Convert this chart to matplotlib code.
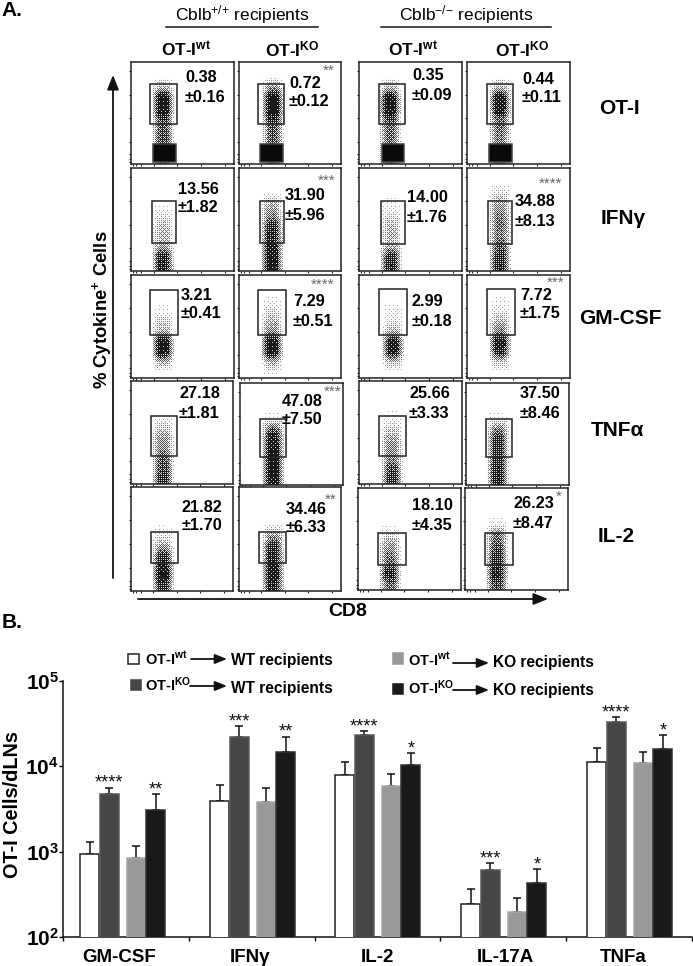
import numpy as np
import matplotlib
matplotlib.use('Agg')
import matplotlib.pyplot as plt
from matplotlib.patches import Rectangle

plt.rcParams['font.family'] = ['Liberation Sans', 'DejaVu Sans']
plt.rcParams['mathtext.fontset'] = 'custom'
plt.rcParams['mathtext.rm'] = 'Liberation Sans'
plt.rcParams['mathtext.bf'] = 'Liberation Sans:bold'
plt.rcParams['mathtext.default'] = 'regular'

W, H = 693, 966

# ---------- panel A data ----------
rows = ['OT-I', 'IFNγ', 'GM-CSF', 'TNFα', 'IL-2']
means = [['0.38', '0.72', '0.35', '0.44'],
         ['13.56', '31.90', '14.00', '34.88'],
         ['3.21', '7.29', '2.99', '7.72'],
         ['27.18', '47.08', '25.66', '37.50'],
         ['21.82', '34.46', '18.10', '26.23']]
sems = [['0.16', '0.12', '0.09', '0.11'],
        ['1.82', '5.96', '1.76', '8.13'],
        ['0.41', '0.51', '0.18', '1.75'],
        ['1.81', '7.50', '3.33', '8.46'],
        ['1.70', '6.33', '4.35', '8.47']]

# upper gate of every plot, in % of the plot: x0, x1, y0, y1
gates = [[(18.5, 45, 39, 78), (18.6, 44, 39, 78), (19.4, 45, 39, 78), (19.4, 44.6, 39, 78)],
         [(20.4, 43.7, 27, 68), (20.6, 44, 27, 68), (21.3, 44.6, 26, 68), (20.4, 43.7, 26, 68)],
         [(18.4, 45.6, 42, 85), (18.6, 46, 42, 85), (19.4, 46.6, 42, 86), (19.4, 46.6, 42, 86)],
         [(19.4, 44.7, 27, 66), (19.4, 44.9, 27, 65), (19.4, 45.6, 27, 66), (19.4, 44.7, 27, 65)],
         [(19.4, 45.6, 27, 57), (19.6, 45.6, 27, 57), (19.4, 46.6, 25, 56), (19.4, 46.6, 25, 56)]]
# lower gate, only on the OT-I row
lower_gates = [(21, 44, 2, 20), (20.6, 43, 2, 20), (22, 44, 2, 20), (21.5, 44, 2, 20)]

# cloud centre on the CD8 axis, in % of the plot
cloud_x = [[31, 33, 30, 32],
           [31, 32, 31, 32],
           [31, 32, 33, 32],
           [31, 32, 32, 31],
           [31, 33, 31, 31]]
# how dark the cloud is in ten slices, from bottom to top of the plot
cloud_y = [[[.5, .6, .65, .6, .7, .95, .95, .3, 0, 0],
            [.5, .6, .6, .6, .8, 1, 1, .4, 0, 0],
            [.5, .5, .55, .55, .7, .95, .9, .3, 0, 0],
            [.5, .5, .5, .55, .6, .9, .9, .3, 0, 0]],
           [[.8, .75, .3, .3, .25, .1, 0, 0, 0, 0],
            [.95, .9, .85, .8, .7, .45, .3, 0, 0, 0],
            [.75, .7, .25, .3, .25, .12, .03, 0, 0, 0],
            [.75, .7, .6, .5, .55, .5, .35, .15, 0, 0]],
           [[0, .3, .95, .95, .3, .2, .03, 0, 0, 0],
            [.03, .3, .95, .95, .45, .3, .15, .03, 0, 0],
            [0, .25, .85, .85, .3, .1, .05, 0, 0, 0],
            [0, .2, .8, .9, .5, .3, .1, .03, 0, 0]],
           [[.7, .65, .6, .45, .4, .2, 0, 0, 0, 0],
            [.9, .95, .95, .9, .85, .6, .05, 0, 0, 0],
            [.7, .65, .45, .45, .35, .15, .03, 0, 0, 0],
            [.75, .75, .7, .7, .7, .5, .05, 0, 0, 0]],
           [[.7, 1, .8, .7, .3, .05, 0, 0, 0, 0],
            [.8, .9, .85, .8, .7, .3, 0, 0, 0, 0],
            [.55, .8, .6, .5, .35, .1, 0, 0, 0, 0],
            [.65, .85, .75, .7, .6, .5, .05, 0, 0, 0]]]
cloud_across = [0, .5, .95, 1, .95, .5, 0]
# screen used to turn the darkness into dots
dot_screen = np.array([[0, 8, 2, 10], [12, 4, 14, 6], [3, 11, 1, 9], [15, 7, 13, 5]]) / 16 + 1 / 32

flow_ticks = [2, 5, 10, 22, 45, 68, 91]

# significance marks on the plots: row, column, stars
plot_stars = [(0, 1, '**'), (1, 1, '***'), (1, 3, '****'), (2, 1, '****'),
              (2, 3, '***'), (3, 1, '***'), (4, 1, '**'), (4, 3, '*')]
star_xy = [(329, 69), (327, 179), (551, 182), (323, 283),
           (556, 281), (333, 390), (331, 498), (559, 495)]

# ---------- panel A layout, in pixels ----------
col_edges = [[(131, 234), (239, 341), (359, 462), (467, 570)],
             [(131, 234), (239, 341), (359, 462), (467, 570)],
             [(131, 234), (239, 341), (359, 462), (467, 570)],
             [(131, 233), (240, 343), (359, 462), (466, 569)],
             [(131, 233), (239, 341), (358, 461), (465, 568)]]
row_edges = [[(62, 164)] * 4,
             [(168, 271)] * 4,
             [(275, 378)] * 4,
             [(381, 484), (383, 485), (381, 484), (383, 485)],
             [(487, 591), (487, 591), (488, 590), (488, 590)]]
label_x = [[185, 289, 412, 522], [178, 285, 407, 515], [181, 293, 412, 520],
           [179, 282, 409, 520], [182, 286, 412, 513]]
label_y = [[78, 83, 76, 79], [189, 196, 198, 202], [295, 302, 302, 295],
           [394, 401, 394, 394], [507, 509, 506, 504]]
row_label_xy = [(619, 109), (623, 218), (620, 319), (617, 431), (616, 537)]

# ---------- panel B data ----------
cytokines = ['GM-CSF', 'IFNγ', 'IL-2', 'IL-17A', 'TNFa']
ot_wt_wt = [947, 3930, 8000, 245, 11350]
ot_ko_wt = [4790, 22100, 23600, 610, 33400]
ot_wt_ko = [851, 3860, 5940, 198, 10900]
ot_ko_ko = [3100, 14900, 10400, 430, 16000]
top_wt_wt = [1310, 6050, 11350, 365, 16300]
top_ko_wt = [5630, 29800, 25700, 736, 37900]
top_wt_ko = [1175, 5580, 8200, 284, 14600]
top_ko_ko = [4710, 22300, 14400, 622, 23100]
stars_ko_wt = ['****', '***', '****', '***', '****']
stars_ko_ko = ['**', '**', '*', '*', '*']

series = [(ot_wt_wt, top_wt_wt, None, 'white', '#222222'),
          (ot_ko_wt, top_ko_wt, stars_ko_wt, '#464646', '#5a5a5a'),
          (ot_wt_ko, top_wt_ko, None, '#999999', '#a8a8a8'),
          (ot_ko_ko, top_ko_ko, stars_ko_ko, '#191919', '#333333')]
group_left = [0.135, 1.169, 2.162, 3.164, 4.165]
bar_offset = [0, .157, .372, .526]
bar_width = .153
label_pos = [.445, 1.487, 2.496, 3.52, 4.45]


def axes_at(x0, x1, y0, y1):
    return fig.add_axes([x0 / W, 1 - y1 / H, (x1 - x0) / W, (y1 - y0) / H])


def arrow(x0, y0, x1, y1, size=11):
    page.annotate('', xy=(x1, y1), xytext=(x0, y0),
                  arrowprops=dict(arrowstyle='-|>,head_width=0.32,head_length=0.8', color='#111111',
                                  lw=1.3, mutation_scale=size, shrinkA=0, shrinkB=0))


def dotted_cloud(profile, across):
    # read the two typed profiles at pixel size, then screen them into dots
    ys = np.interp(np.arange(103) / 10.3 - .5, np.arange(10), profile)
    xs = np.interp(np.arange(24) / 23 * 6, np.arange(7), across)
    dark = np.outer(ys, xs)
    tile = np.tile(dot_screen, (26, 6))[:103, :24]
    return np.where(dark ** 0.8 > tile, .9 * np.clip(dark + .35, 0, 1), .2 * dark)


fig = plt.figure(figsize=(W / 100, H / 100), dpi=100)

# ---------- flow plots ----------
for r in range(5):
    for c in range(4):
        x0, x1 = col_edges[r][c]
        y0, y1 = row_edges[r][c]
        ax = axes_at(x0, x1, y0, y1)
        ax.imshow(dotted_cloud(cloud_y[r][c], cloud_across), origin='lower', cmap='gray_r', vmin=0, vmax=1,
                  aspect='auto', interpolation='nearest',
                  extent=[cloud_x[r][c] - 11.5, cloud_x[r][c] + 11.5, 0, 100], zorder=1)
        ax.set_xlim(0, 100)
        ax.set_ylim(0, 100)
        gx0, gx1, gy0, gy1 = gates[r][c]
        ax.add_patch(Rectangle((gx0, gy0), gx1 - gx0, gy1 - gy0, fill=False, ec='#222222', lw=1.1, zorder=3))
        if r == 0:
            gx0, gx1, gy0, gy1 = lower_gates[c]
            ax.add_patch(Rectangle((gx0, gy0), gx1 - gx0, gy1 - gy0, fc='#0a0a0a', ec='#444444', lw=1.1, zorder=3))
        ax.set_xticks(flow_ticks)
        ax.set_yticks(flow_ticks)
        ax.set_xticklabels([])
        ax.set_yticklabels([])
        ax.tick_params(length=1.5, width=0.8, color='#222222')
        for s in ax.spines.values():
            s.set_linewidth(1.1)
            s.set_color('#222222')

# ---------- bar chart ----------
bx = axes_at(63, 692, 681, 937)
for i, (vals, tops, stars, face, edge) in enumerate(series):
    xs = np.array(group_left) + bar_offset[i] + bar_width / 2
    vals = np.array(vals)
    tops = np.array(tops)
    bx.errorbar(xs, vals, yerr=[np.zeros(5), tops - vals], fmt='none', ecolor='#111111',
                elinewidth=1.1, capsize=2.9, capthick=1.1, zorder=2)
    bx.bar(xs, vals, bar_width, color=face, edgecolor=edge, linewidth=1.1, zorder=3)
    if stars:
        for x, t, s in zip(xs, tops, stars):
            bx.annotate(s, (x, t), xytext=(0, -3), textcoords='offset points', ha='center', va='bottom',
                        fontsize=13, color='#111111')
bx.set_yscale('log')
bx.set_ylim(100, 100000)
bx.set_xlim(0, 5)
bx.set_xticks(range(6))
bx.set_xticklabels([])
bx.set_xticks(label_pos, minor=True)
bx.set_xticklabels(cytokines, minor=True, fontsize=13.5, fontweight='bold')
bx.tick_params(axis='x', which='minor', length=0, pad=8.5)
bx.tick_params(axis='x', which='major', length=3, width=1)
bx.set_yticks([100, 1000, 10000, 100000])
bx.set_yticklabels([r'$\mathbf{10^{2}}$', r'$\mathbf{10^{3}}$', r'$\mathbf{10^{4}}$', r'$\mathbf{10^{5}}$'], fontsize=15)
bx.yaxis.set_tick_params(which='minor', length=0)
bx.tick_params(axis='y', which='major', length=3, width=1, pad=0)
bx.spines['top'].set_visible(False)
bx.spines['right'].set_visible(False)
for s in ['left', 'bottom']:
    bx.spines[s].set_linewidth(1.1)
    bx.spines[s].set_color('#111111')

# ---------- everything that sits on the page, in pixels ----------
page = fig.add_axes([0, 0, 1, 1], zorder=10)
page.set_xlim(0, W)
page.set_ylim(H, 0)
page.axis('off')

page.text(1, 10, 'A.', fontsize=15, fontweight='bold', va='center')
page.text(2, 622, 'B.', fontsize=15, fontweight='bold', va='center')

page.text(242, 15, r'Cblb$^{{+}/{+}}$ recipients', fontsize=12.5, ha='center', va='center')
page.text(466, 15, r'Cblb$^{{-}/{-}}$ recipients', fontsize=12.5, ha='center', va='center')
page.plot([166, 318], [27, 27], color='#111111', lw=1.1)
page.plot([381, 551], [27, 27], color='#111111', lw=1.1)
for x, s in zip([186, 292, 413, 522], ['wt', 'KO', 'wt', 'KO']):
    page.text(x, 49, r'OT-I$^{\mathbf{%s}}$' % s, fontsize=12.5, fontweight='bold', ha='center', va='center')

for r in range(5):
    page.text(row_label_xy[r][0], row_label_xy[r][1], rows[r], fontsize=15, fontweight='bold',
              ha='center', va='center')
    for c in range(4):
        page.text(label_x[r][c], label_y[r][c], means[r][c], fontsize=11.7, fontweight='bold', va='center')
        page.text(label_x[r][c], label_y[r][c] + 19, '±' + sems[r][c], fontsize=11.7, fontweight='bold', va='center')

for (r, c, s), (x, y) in zip(plot_stars, star_xy):
    page.text(x, y + 2, s, fontsize=11, color='#666666', ha='center', va='center')

arrow(113, 578, 113, 75)
arrow(138, 599, 548, 599)
page.text(102, 310, r'% Cytokine$^{+}$ Cells', fontsize=13.3, fontweight='bold', rotation=90, ha='center', va='center')
page.text(348, 612, 'CD8', fontsize=14, fontweight='bold', ha='center', va='center')
page.text(13, 805, 'OT-I Cells/dLNs', fontsize=14.3, fontweight='bold', rotation=90, ha='center', va='center')

# legend, drawn by hand like the original
legend_box = [(128, 654, 11, 10, 'white', '#222222'), (131, 680, 10, 10, '#464646', '#464646'),
              (393, 653, 10, 11, '#999999', '#999999'), (393, 684, 10, 10, '#191919', '#191919')]
legend_who = ['wt', 'KO', 'wt', 'KO']
legend_to = ['WT recipients', 'WT recipients', 'KO recipients', 'KO recipients']
legend_text_x = [145, 145, 408, 408]
legend_text_y = [659, 685, 660, 688]
legend_arrow = [(191, 227, 659), (190, 227, 686), (453, 489, 663), (453, 489, 690)]
legend_to_xy = [(231, 660), (231, 688), (493, 663), (493, 690)]
for i in range(4):
    x, y, w, h, fc, ec = legend_box[i]
    page.add_patch(Rectangle((x, y), w, h, fc=fc, ec=ec, lw=1.1))
    page.text(legend_text_x[i], legend_text_y[i], r'OT-I$^{\mathbf{%s}}$' % legend_who[i], fontsize=10.5,
              fontweight='bold', va='center')
    a0, a1, ay = legend_arrow[i]
    arrow(a0, ay, a1, ay, size=9)
    page.text(legend_to_xy[i][0], legend_to_xy[i][1], legend_to[i], fontsize=11.2, fontweight='bold', va='center')

fig.savefig('out.png', dpi=100)
